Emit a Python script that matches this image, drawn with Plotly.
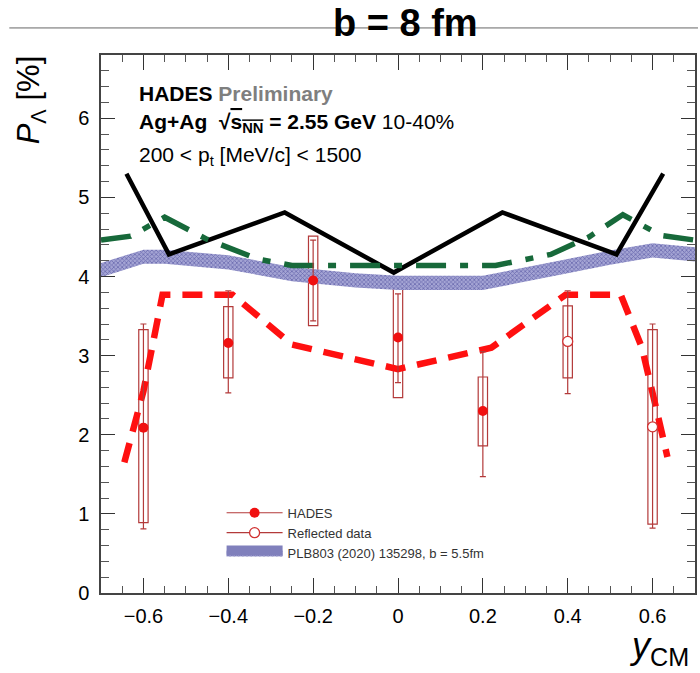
import plotly.graph_objects as go

# ---------------- data ----------------
black_x = [-0.64, -0.54, -0.267, -0.01, 0.246, 0.515, 0.625]
black_y = [5.30, 4.28, 4.81, 4.05, 4.81, 4.28, 5.30]

green_x = [-0.70, -0.63, -0.55, -0.45, -0.33, -0.25, 0.00, 0.23, 0.36, 0.45, 0.53, 0.62, 0.70]
green_y = [4.46, 4.51, 4.75, 4.47, 4.22, 4.14, 4.14, 4.14, 4.28, 4.50, 4.78, 4.52, 4.46]

blue_x = [-0.70, -0.60, -0.55, -0.40, -0.25, -0.10, 0.00, 0.20, 0.40, 0.50, 0.60, 0.70]
blue_lo = [3.99, 4.16, 4.16, 4.09, 3.94, 3.86, 3.83, 3.83, 4.04, 4.15, 4.24, 4.19]
blue_hi = [4.17, 4.34, 4.34, 4.27, 4.12, 4.04, 4.01, 4.01, 4.22, 4.33, 4.42, 4.37]

red_x = [-0.645, -0.60, -0.555, -0.39, -0.25, 0.00, 0.22, 0.395, 0.525, 0.575, 0.61, 0.635]
red_y = [1.65, 2.55, 3.77, 3.77, 3.14, 2.83, 3.10, 3.77, 3.77, 3.10, 2.30, 1.72]

hades_x = [-0.6, -0.4, -0.2, 0.0, 0.2]
hades_y = [2.09, 3.16, 3.95, 3.23, 2.30]
hades_err_plus = [1.31, 0.66, 0.51, 0.55, 0.75]
hades_err_minus = [1.28, 0.63, 0.51, 0.57, 0.83]
hades_sys_lo = [0.89, 2.72, 3.38, 2.47, 1.86]
hades_sys_hi = [3.33, 3.62, 4.51, 3.97, 2.73]

refl_x = [0.4, 0.6]
refl_y = [3.18, 2.10]
refl_err_plus = [0.64, 1.30]
refl_err_minus = [0.66, 1.28]
refl_sys_lo = [2.72, 0.87]
refl_sys_hi = [3.63, 3.33]

x_tickvals = [-0.6, -0.4, -0.2, 0, 0.2, 0.4, 0.6]
x_ticktext = ["\u22120.6", "\u22120.4", "\u22120.2", "0", "0.2", "0.4", "0.6"]
y_tickvals = [0, 1, 2, 3, 4, 5, 6]

# ---------------- style ----------------
FONT = "Liberation Sans, Arial, Helvetica, sans-serif"
BOXCOL = "#b33a3a"
BAND_PATTERN = dict(shape="x", fgcolor="#34348a", bgcolor="#a4a4d4", size=3, solidity=0.45)
fig = go.Figure()

# model band
fig.add_trace(go.Scatter(x=blue_x, y=blue_lo, mode="lines", line=dict(width=0, color="#5a5aa8"),
                         showlegend=False, hoverinfo="skip"))
fig.add_trace(go.Scatter(x=blue_x, y=blue_hi, mode="lines", line=dict(width=0, color="#5a5aa8"),
                         fill="tonexty", fillcolor="#8c8cc4", fillpattern=BAND_PATTERN,
                         showlegend=False, hoverinfo="skip"))

# model lines
fig.add_trace(go.Scatter(x=black_x, y=black_y, mode="lines", line=dict(color="black", width=4.5),
                         showlegend=False))
fig.add_trace(go.Scatter(x=green_x, y=green_y, mode="lines",
                         line=dict(color="#17693a", width=5.5, dash="30px,14px,8px,14px"),
                         showlegend=False))
fig.add_trace(go.Scatter(x=red_x, y=red_y, mode="lines",
                         line=dict(color="#ff1010", width=6.5, dash="20px,12px"),
                         showlegend=False))

# systematic boxes
box_x = hades_x + refl_x
box_lo = hades_sys_lo + refl_sys_lo
box_hi = hades_sys_hi + refl_sys_hi
fig.add_trace(go.Bar(x=box_x, base=box_lo, y=[h - l for h, l in zip(box_hi, box_lo)],
                     width=0.022, marker=dict(color="rgba(0,0,0,0)", line=dict(color=BOXCOL, width=1.2)),
                     showlegend=False, hoverinfo="skip"))

# data points
fig.add_trace(go.Scatter(x=hades_x, y=hades_y, mode="markers",
                         marker=dict(color="#f01010", size=10, line=dict(width=0)),
                         error_y=dict(type="data", array=hades_err_plus, arrayminus=hades_err_minus,
                                      color=BOXCOL, thickness=1.2, width=3),
                         showlegend=False))
fig.add_trace(go.Scatter(x=refl_x, y=refl_y, mode="markers",
                         marker=dict(color="white", size=10, line=dict(width=1.3, color="#d03030")),
                         error_y=dict(type="data", array=refl_err_plus, arrayminus=refl_err_minus,
                                      color=BOXCOL, thickness=1.2, width=3),
                         showlegend=False))

# legend-only entries
fig.add_trace(go.Scatter(x=[None], y=[None], mode="lines+markers", name="HADES", legendrank=1,
                         line=dict(color=BOXCOL, width=1.2),
                         marker=dict(color="#f01010", size=10)))
fig.add_trace(go.Scatter(x=[None], y=[None], mode="lines+markers", name="Reflected data", legendrank=2,
                         line=dict(color=BOXCOL, width=1.2),
                         marker=dict(color="white", size=10, line=dict(width=1.3, color="#d03030"))))
fig.add_trace(go.Scatter(x=[None], y=[None], mode="lines", name="PLB803 (2020) 135298, b = 5.5fm",
                         legendrank=3, fill="toself", fillcolor="#8c8cc4", fillpattern=BAND_PATTERN,
                         line=dict(width=10, color="#8080bc")))

axis_common = dict(showline=True, linecolor="#444", linewidth=1.5, mirror="ticks",
                   ticks="inside", tickcolor="#333", tickwidth=1.2,
                   showgrid=False, zeroline=False,
                   tickfont=dict(family=FONT, size=20, color="black"))

fig.update_xaxes(range=[-0.7, 0.7], tickvals=x_tickvals, ticktext=x_ticktext, ticklen=15,
                 ticklabelstandoff=4,
                 minor=dict(dtick=0.05, tick0=0, ticks="inside", ticklen=7, tickcolor="#555", tickwidth=1),
                 **axis_common)
fig.update_yaxes(range=[0, 6.8], tickvals=y_tickvals, ticklen=14, ticklabelstandoff=6,
                 minor=dict(dtick=0.2, tick0=0, ticks="inside", ticklen=8, tickcolor="#555", tickwidth=1),
                 **axis_common)

LX = (137 - 101) / 596
annos = [
    dict(text="<b>b = 8 fm</b>", x=(407 - 101) / 596, y=(593 - 24) / 537, font=dict(size=38, color="black")),
    dict(text="<b>HADES</b> <b><span style='color:#7f7f7f'>Preliminary</span></b>",
         x=LX, y=(593 - 94) / 537, xanchor="left", font=dict(size=21, color="black")),
    dict(text="<b>Ag+Ag</b>\u00a0 <b>\u221a<span style='text-decoration:overline'>s<sub>NN</sub></span> = 2.55 GeV</b> 10-40%",
         x=LX, y=(593 - 124) / 537, xanchor="left", font=dict(size=21, color="black")),
    dict(text="200 < p<sub>t</sub> [MeV/c] < 1500",
         x=LX, y=(593 - 157) / 537, xanchor="left", font=dict(size=21, color="black")),
    dict(text="<i>P</i><sub>\u039b</sub> [%]", textangle=-90,
         x=(31 - 101) / 596, y=(593 - 101) / 537, font=dict(size=31, color="black")),
    dict(text="<i>y</i><sub>CM</sub>", x=(693 - 101) / 596, y=(593 - 648) / 537, xanchor="right",
         font=dict(size=36, color="black")),
]
for a in annos:
    a.setdefault("xanchor", "center")
    a.update(xref="paper", yref="paper", yanchor="middle", showarrow=False)
    a["font"]["family"] = FONT
fig.update_layout(annotations=annos)

fig.add_shape(type="line", xref="paper", yref="paper", x0=(9 - 101) / 596, x1=(700 - 101) / 596,
              y0=(593 - 29) / 537, y1=(593 - 29) / 537, line=dict(color="#666", width=1), layer="below")

fig.update_layout(
    width=700, height=673,
    margin=dict(l=101, r=3, t=55, b=80),
    paper_bgcolor="white", plot_bgcolor="white",
    showlegend=True,
    legend=dict(x=(222 - 101) / 596, y=(593 - 498) / 537, xanchor="left", yanchor="top",
                bgcolor="rgba(0,0,0,0)", font=dict(family=FONT, size=13, color="#333"),
                itemwidth=56, tracegroupgap=0, traceorder="normal"),
    barmode="overlay",
)

fig.write_html("out.html")
